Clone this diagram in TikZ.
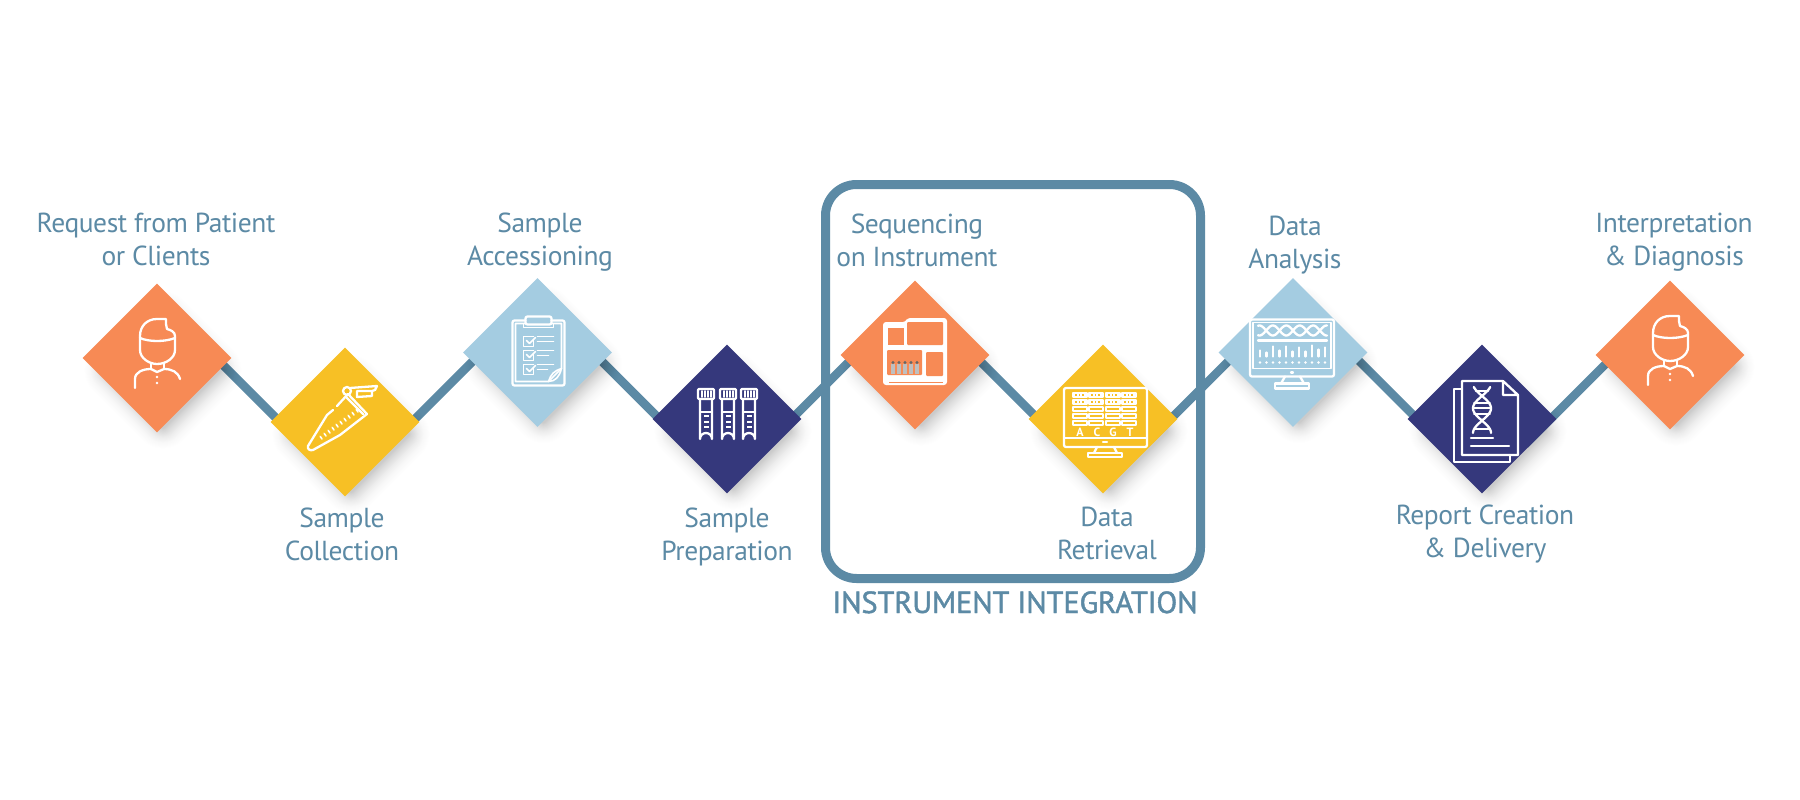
\documentclass[tikz,border=0pt]{standalone}
\usepackage{fontspec}
\setmainfont[LetterSpace=-1.6]{PT Sans}
\newfontfamily\titlefont[FakeBold=1.4,LetterSpace=-0.5]{PT Sans}
\newfontfamily\basefont{PT Sans}
\usetikzlibrary{shapes.geometric,calc,backgrounds}
\definecolor{cOrange}{HTML}{F78A55}
\definecolor{cYellow}{HTML}{F7C025}
\definecolor{cSky}{HTML}{A4CCE1}
\definecolor{cNavy}{HTML}{35387C}
\definecolor{cSteel}{HTML}{5C8AA5}
\pgfdeclarelayer{connlayer}
\pgfdeclarelayer{shadowlayer}
\pgfsetlayers{connlayer,shadowlayer,main}
\tikzset{
  stepnode/.style={diamond,aspect=1,inner sep=0pt,minimum width=149pt,minimum height=149pt,fill=#1,draw=none},
  lbl/.style={text=cSteel,font=\fontsize{27.5}{33}\selectfont,align=center,anchor=base,inner sep=0pt},
  conn/.style={draw=cSteel,line width=8.5pt},
  ico/.style={draw=white,line width=2.3pt,line cap=round,line join=round,fill=none},
  thinico/.style={ico,line width=1.6pt},
}
\newcommand{\castshadow}[1]{%
  \begin{pgfonlayer}{shadowlayer}
  \foreach \rr in {0,...,23}{
    \pgfmathsetmacro{\shalf}{92-1.4*\rr}
    \pgfmathsetmacro{\sround}{30-1.2*\rr}
    \pgfmathsetmacro{\sop}{0.0015+0.0006*\rr}
    \fill[black,opacity=\sop,rounded corners=\sround pt,shift={($(#1.center)+(6,12)$)}]
      ({-\shalf},0)--(0,{-\shalf})--({\shalf},0)--(0,{\shalf})--cycle;
  }
  \end{pgfonlayer}}
\newcommand{\iconperson}{%
  \draw[ico] (9,-39)--(0,-39) .. controls (-10,-39) and (-17,-32) .. (-17,-22)--(-17,-8) .. controls (-17,0) and (-8,6) .. (0,6) .. controls (9,6) and (18,0) .. (18,-8)--(18,-22) .. controls (18,-26) and (14,-28) .. (10,-29)--(9,-34)--(9,-39);
  \draw[ico] (-17,-20) .. controls (-8,-16) and (8,-16) .. (18,-20);
  \draw[ico] (-6,5)--(-6,11) (7,5)--(7,11);
  \draw[ico] (-6,11)--(0,14)--(7,11);
  \draw[ico] (-22,30)--(-22,21) .. controls (-22,14) and (-14,11) .. (-6,11) (7,11) .. controls (15,11) and (21,14) .. (23,21);
  \fill[white] (0,19) circle (1.4) (0,25) circle (1.4);
}
\begin{document}
\begin{tikzpicture}[x=1pt,y=-1pt]
\useasboundingbox (0,0) rectangle (1800,800);
\begin{pgfonlayer}{connlayer}
\fill[white] (0,0) rectangle (1800,800);
\end{pgfonlayer}
% steps
\node[stepnode=cOrange] (n1) at (157,358) {};
\node[stepnode=cYellow] (n2) at (345,422) {};
\node[stepnode=cSky] (n3) at (537.5,352.5) {};
\node[stepnode=cNavy] (n4) at (727,419) {};
\node[stepnode=cOrange] (n5) at (915,355) {};
\node[stepnode=cYellow] (n6) at (1103,419) {};
\node[stepnode=cSky] (n7) at (1293,352.5) {};
\node[stepnode=cNavy] (n8) at (1482,419) {};
\node[stepnode=cOrange] (n9) at (1670,355) {};
\castshadow{n1}\castshadow{n2}\castshadow{n3}\castshadow{n4}\castshadow{n5}\castshadow{n6}\castshadow{n7}\castshadow{n8}\castshadow{n9}
% connectors
\begin{pgfonlayer}{connlayer}
\draw[conn] ($(n1.center)+(43,-16)$) -- ($(n2.center)+(-55,10)$);
\draw[conn] ($(n2.center)+(45,22)$) -- ($(n3.center)+(-47.5,-8.5)$);
\draw[conn] ($(n3.center)+(42.5,-13)$) -- ($(n4.center)+(-47,20.5)$);
\draw[conn] ($(n4.center)+(43,21.5)$) -- ($(n5.center)+(-45,-14.5)$);
\draw[conn] ($(n5.center)+(45,-14)$) -- ($(n6.center)+(-43,22)$);
\draw[conn] ($(n6.center)+(47,20.5)$) -- ($(n7.center)+(-43,-13)$);
\draw[conn] ($(n7.center)+(47,-10.5)$) -- ($(n8.center)+(-42,23)$);
\draw[conn] ($(n8.center)+(43,25.5)$) -- ($(n9.center)+(-45,-10.5)$);
\end{pgfonlayer}
% box
\node[draw=cSteel,line width=9pt,rounded corners=31pt,minimum width=375pt,minimum height=394pt,inner sep=0pt,fill=none] (box) at (1013,381.5) {};
% labels (anchored on the baseline of the last line)
\node[lbl] (l1) at (156,265.5) {Request from Patient\\or Clients};
\node[lbl] (l2) at (342,560) {Sample\\Collection};
\node[lbl] (l3) at (540,265.5) {Sample\\Accessioning};
\node[lbl] (l4) at (727,560) {Sample\\Preparation};
\node[lbl] (l5) at (917,266) {Sequencing\\on Instrument};
\node[lbl] (l6) at (1107,559.5) {Data\\Retrieval};
\node[lbl] (l7) at (1295,268) {Data\\Analysis};
\node[lbl] (l8) at (1485,557) {Report Creation\\\& Delivery};
\node[lbl] (l9) at (1674,265) {Interpretation\\\& Diagnosis};
\node[lbl,font=\titlefont\fontsize{30.5}{33}\selectfont] (title) at (1015,613) {INSTRUMENT INTEGRATION};
% icon 1
\begin{scope}[shift={(n1.center)}]\iconperson\end{scope}
% icon 2 tube
\begin{scope}[shift={(n2.center)}]
  \draw[ico] (-12,-12)--(-18,-7)--(-37,24) .. controls (-38,27) and (-35,29) .. (-32,28)--(-5,13)--(22,-8);
  \draw[ico] (3,-28)--(22,-8) (-8,-16)--(3,-28);
  \draw[ico] (1,-25)--(18,-8);
  \draw[ico] (2,-31) circle (4);
  \draw[ico] (5,-34)--(32,-36)--(30,-32)--(27,-31)--(27,-26)--(12,-25)--(12,-31)--(27,-31);
  \foreach \a/\b in {-23/17,-19/14,-15/11,-11/8,-7/5,-3/2,1/-1,5/-4,9/-7,13/-10}{
    \draw[ico,line width=1.6pt] (\a,\b)--++(-1.8,-2.6);
  }
\end{scope}
% icon 3 clipboard
\begin{scope}[shift={(n3.center)}]
  \draw[ico,rounded corners=2pt] (-12,-32)--(-25,-32)--(-25,33)--(27,33)--(27,-32)--(14,-32);
  \draw[thinico] (-12,-29)--(-22,-29)--(-22,29)--(11,29)--(24,16)--(24,-29)--(14,-29);
  \draw[ico,rounded corners=2pt] (-12,-36) rectangle (14,-28);
  \draw[thinico] (-14,-28)--(-14,-25)--(16,-25)--(16,-28);
  \draw[thinico] (11,29) .. controls (13,22) and (17,18) .. (24,16) (11,29) .. controls (18,29) and (22,24) .. (24,16);
  \foreach \b in {-16,-2,12}{
    \draw[thinico] (-4,\b)--(-14,\b)--(-14,{\b+10})--(-4,{\b+10})--(-4,{\b+4});
    \draw[ico,line width=1.6pt] (-11,{\b+4})--(-8,{\b+7})--(-2,{\b+1});
    \draw[thinico] (0,\b)--(16,\b);
  }
  \draw[thinico] (0,-11)--(16,-11) (0,3)--(11,3) (0,17)--(10,17);
\end{scope}
% icon 4 tubes
\begin{scope}[shift={(n4.center)}]
  \foreach \c in {-21,1,22}{
    \draw[ico,rounded corners=1pt] ({\c-8},-30) rectangle ({\c+8},-20);
    \foreach \d in {-4,-1,2,5}{\draw[thinico] ({\c+\d},-28)--({\c+\d},-22);}
    \draw[ico] ({\c-6},-20)--({\c-6},20) arc[start angle=180,end angle=0,radius=6,y radius=-6] --({\c+6},-20);
    \draw[thinico] ({\c-6},-7)--({\c+6},-7);
    \foreach \e in {-3,3,8}{\draw[ico,line width=1.5pt,line cap=butt] ({\c-2},\e)--({\c+2.5},\e);}
  }
\end{scope}
% icon 5 instrument
\begin{scope}[shift={(n5.center)}]
  \fill[white,rounded corners=3pt] (-32,-33)--(-9,-33)--(-8,-37)--(32,-37)--(32,30)--(-32,30)--cycle;
  \fill[cOrange] (-27,-27) rectangle (-11,-10);
  \fill[cOrange,rounded corners=1pt] (-8,-33) rectangle (28,-10);
  \fill[cOrange,rounded corners=1pt] (-28,-5) rectangle (7,20);
  \fill[cOrange,rounded corners=1pt] (11,-3) rectangle (28,21);
  \fill[cOrange] (-26,27) rectangle (28,28);
  \foreach \v in {-22,-16,-10,-4,2}{
    \fill[black!25] ({\v-2},9) rectangle ({\v+2},19);
    \fill[black!60] (\v,7.5) circle (1.6);
  }
\end{scope}
% icon 6 monitor
\begin{scope}[shift={(n6.center)}]
  \draw[ico,rounded corners=2pt] (-39,-31) rectangle (44,28);
  \draw[ico] (-39,19)--(44,19);
  \draw[ico] (0,23)--(4,23);
  \draw[ico] (-6,28)--(-9,34) (11,28)--(14,34);
  \draw[ico] (-15,34) rectangle (19,38);
  \foreach \cx in {-30,-14,3,19}{
    \foreach \ry in {-26,-19,-12,-5,2}{
      \draw[thinico,line width=1.1pt] (\cx,\ry) rectangle ({\cx+14},{\ry+4});
    }
    \foreach \ry in {-24,-17}{
      \draw[white,line width=1.5pt,dash pattern=on 2pt off 1.5pt] (\cx,\ry)--({\cx+14},\ry);
    }
  }
  \node[text=white,font=\basefont\bfseries\fontsize{12}{12}\selectfont,inner sep=0pt] (baseA) at (-23,13.5) {A};
  \node[text=white,font=\basefont\bfseries\fontsize{12}{12}\selectfont,inner sep=0pt] (baseC) at (-6,13.5) {C};
  \node[text=white,font=\basefont\bfseries\fontsize{12}{12}\selectfont,inner sep=0pt] (baseG) at (10,13.5) {G};
  \node[text=white,font=\basefont\bfseries\fontsize{12}{12}\selectfont,inner sep=0pt] (baseT) at (27,13.5) {T};
\end{scope}
% icon 7 monitor dna
\begin{scope}[shift={(n7.center)}]
  \draw[ico,rounded corners=2pt] (-43,-33) rectangle (41,24);
  \draw[thinico] (-40,-30)--(38,-30)--(38,16)--(-40,16)--cycle;
  \draw[ico] (-2,20)--(0,20);
  \draw[ico] (-8,24)--(-12,31) (7,24)--(11,31);
  \draw[ico] (-18,31) rectangle (16,36);
  \draw[ico] plot[domain=-35:34,samples=70] (\x,{-22+5*sin(\x*13.4)});
  \draw[ico] plot[domain=-35:34,samples=70] (\x,{-22-5*sin(\x*13.4)});
  \draw[ico] (-35,-12)--(34,-12);
  \foreach \bx/\bh in {-33/6,-26.5/4,-20/10,-13.5/6,-7/10,-0.5/5,6/9,12.5/5,19/11,25.5/7,32/9}{
    \draw[ico] (\bx,4)--(\bx,{4-\bh});
  }
  \foreach \dx in {-33,-26.5,-20,-13.5,-7,-0.5,6,12.5,19,25.5,32}{
    \fill[white] (\dx,10) circle (1.3);
  }
\end{scope}
% icon 8 report
\begin{scope}[shift={(n8.center)}]
  \draw[ico] (-20,-30)--(-28,-30)--(-28,43)--(28,43)--(28,36);
  \draw[ico] (21,-38)--(-20,-38)--(-20,36)--(36,36)--(36,-24)--(21,-38)--(21,-24)--(36,-24);
  \draw[ico] plot[domain=-32:14,samples=40] ({9*cos((\x+10.7)*7.29)},\x);
  \draw[ico] plot[domain=-32:14,samples=40] ({-9*cos((\x+10.7)*7.29)},\x);
  \draw[ico] (-6,-28)--(6,-28) (-9,-10.7)--(9,-10.7) (-7,10)--(7,10);
  \draw[thinico] (-8,-16)--(8,-16) (-8,-5)--(8,-5);
  \draw[ico] (-11,19)--(11,19) (-11,27)--(27,27);
\end{scope}
% icon 9
\begin{scope}[shift={(n9.center)}]\iconperson\end{scope}
\end{tikzpicture}
\end{document}
